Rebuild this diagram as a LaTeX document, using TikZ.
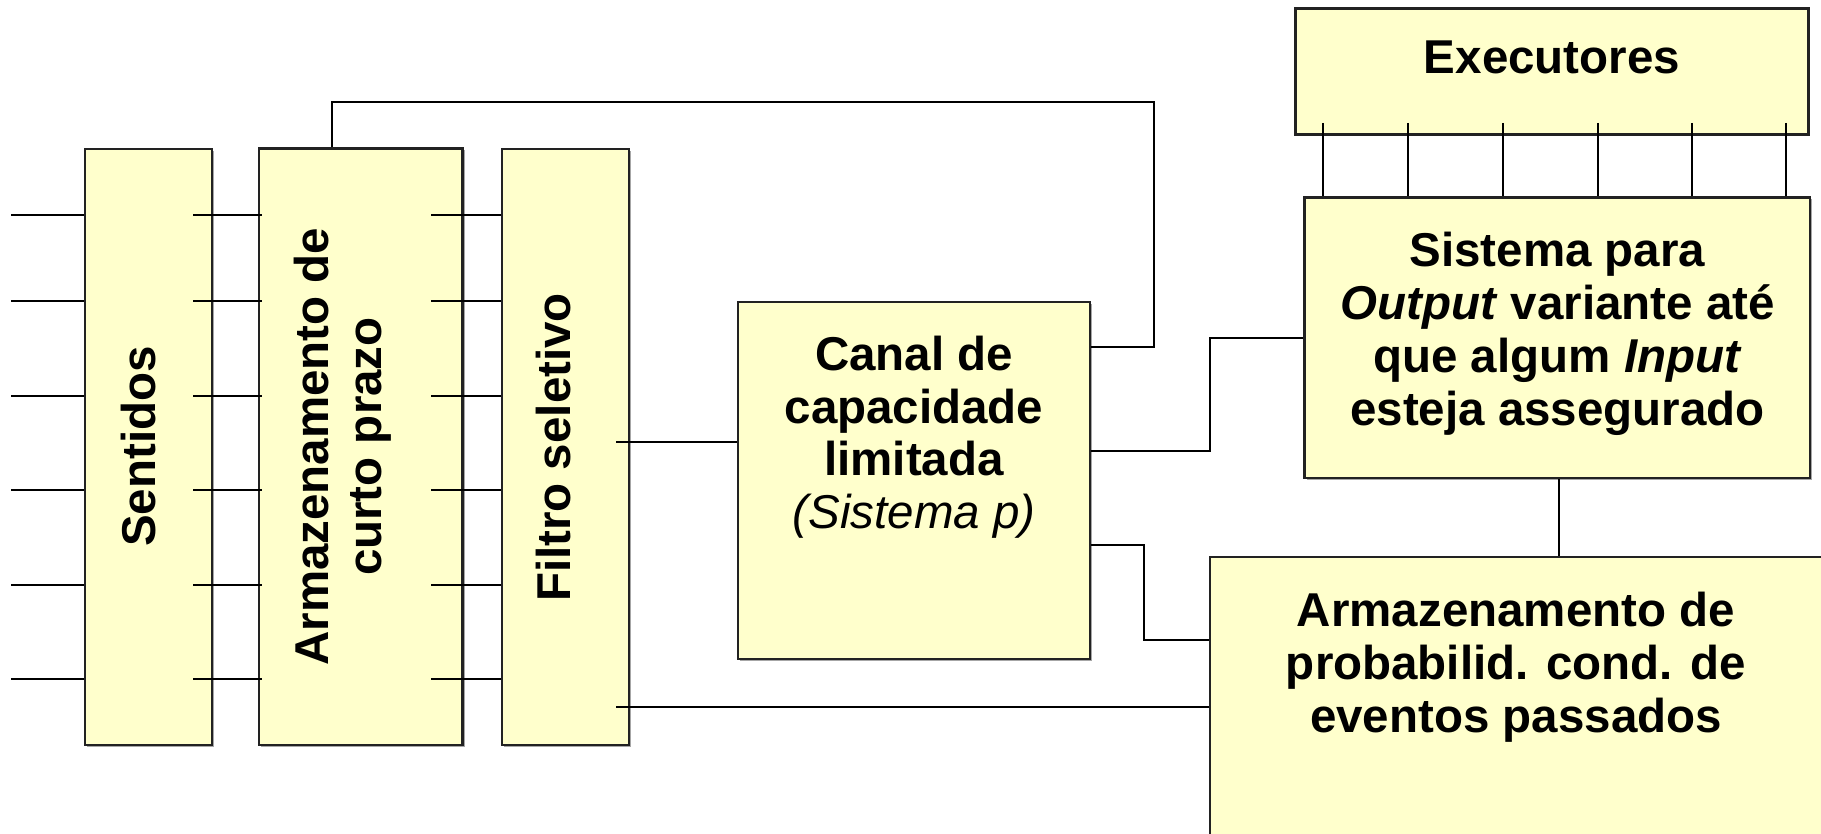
\documentclass[tikz,border=0pt]{standalone}
\usepackage{fontspec}
\setmainfont{Liberation Sans}
\usetikzlibrary{shadows}
\definecolor{boxfill}{HTML}{FFFFCC}
\definecolor{boxline}{HTML}{222222}
\begin{document}
\begin{tikzpicture}[x=1pt,y=-1pt,
  box/.style={rectangle, draw=boxline, line width=2.5pt, fill=boxfill, inner sep=0pt,
    general shadow={fill=black!35, shadow xshift=2pt, shadow yshift=-2pt}},
  conn/.style={draw=black, line width=2pt},
  txt/.style={inner sep=0pt, font=\fontsize{47.5}{53}\selectfont\bfseries},
]
\useasboundingbox (0,0) rectangle (1821,834);
\fill[white] (0,0) rectangle (1821,834);

% boxes
\node[box, minimum width=127pt, minimum height=596pt] (sent) at (148.5,447) {};
\node[box, minimum width=203.6pt, minimum height=596.5pt] (arm) at (360.8,446.75) {};
\node[box, minimum width=127pt, minimum height=596pt] (filt) at (565.5,447) {};
\node[box, minimum width=352pt, minimum height=357pt] (canal) at (914,480.5) {};
\node[box, minimum width=513pt, minimum height=126pt] (exec) at (1551.9,71.3) {};
\node[box, minimum width=505.3pt, minimum height=280.5pt] (sist) at (1557.35,337.75) {};
\node[box, minimum width=630pt, minimum height=293pt] (prob) at (1525,703.5) {};

% texts
\node[txt, rotate=90, anchor=base] (tsent) at (155,446.5) {Sentidos};
\node[txt, rotate=90, anchor=north, align=center] (tarm) at (288,446.6)
  {\rule{0pt}{40pt}Armazenamento de\\curto prazo};
\node[txt, rotate=90, anchor=base] (tfilt) at (570.7,447.5) {Filtro seletivo};
\node[txt, anchor=north, align=center, font=\fontsize{47.5}{52.5}\selectfont\bfseries] (tcanal) at (914,330.5)
  {\rule{0pt}{40pt}Canal de\\capacidade\\limitada\\{\mdseries\itshape (Sistema p)}};
\node[txt, anchor=base] (texec) at (1552,74) {Executores};
\node[txt, anchor=north, align=center] (tsist) at (1557.5,226)
  {\rule{0pt}{40pt}Sistema para\\\textit{Output} variante até\\que algum \textit{Input}\\esteja assegurado};
\node[txt, anchor=north, align=center] (tprob) at (1516,586)
  {\rule{0pt}{40pt}Armazenamento de\\probabilid. cond. de\\eventos passados};

% row coordinates (free ends of the input ticks)
\coordinate (r1) at (11,215.5);
\coordinate (r2) at (11,301);
\coordinate (r3) at (11,395.5);
\coordinate (r4) at (11,490);
\coordinate (r5) at (11,584.5);
\coordinate (r6) at (11,679);
\foreach \i in {1,...,6} {
  \draw[conn] (r\i) -- (sent.west |- r\i);
  \draw[conn] ([xshift=-20pt]sent.east |- r\i) -- ([xshift=4pt]arm.west |- r\i);
  \draw[conn] ([xshift=-32.6pt]arm.east |- r\i) -- (filt.west |- r\i);
}

% executores - sistema
\coordinate (c1) at (1323.2,0);
\coordinate (c2) at (1408,0);
\coordinate (c3) at (1503.2,0);
\coordinate (c4) at (1597.8,0);
\coordinate (c5) at (1692.4,0);
\coordinate (c6) at (1786.4,0);
\foreach \i in {1,...,6} {
  \draw[conn] ([yshift=12.6pt]exec.south -| c\i) -- (sist.north -| c\i);
}

% feedback from canal to short-term store
\coordinate (fbA) at (331.7,102);
\coordinate (fbB) at (1154,102);
\coordinate (fbC) at (1154,347.3);
\draw[conn] (arm.north -| fbA) -- (fbA) -- (fbB) -- (fbC) -- (canal.east |- fbC);

% canal - sistema
\coordinate (csA) at (1210,451.3);
\coordinate (csB) at (1210,338.3);
\draw[conn] (canal.east |- csA) -- (csA) -- (csB) -- (sist.west |- csB);

% canal - prob
\coordinate (cpA) at (1144,545.3);
\coordinate (cpB) at (1144,640.3);
\draw[conn] (canal.east |- cpA) -- (cpA) -- (cpB) -- (prob.west |- cpB);

% filtro - canal, filtro - prob
\coordinate (fc) at (0,442);
\coordinate (fp) at (0,707);
\draw[conn] ([xshift=-14pt]filt.east |- fc) -- (canal.west |- fc);
\draw[conn] ([xshift=-14pt]filt.east |- fp) -- (prob.west |- fp);

% sistema - prob
\coordinate (sp) at (1559.4,0);
\draw[conn] (sist.south -| sp) -- (prob.north -| sp);
\end{tikzpicture}
\end{document}
